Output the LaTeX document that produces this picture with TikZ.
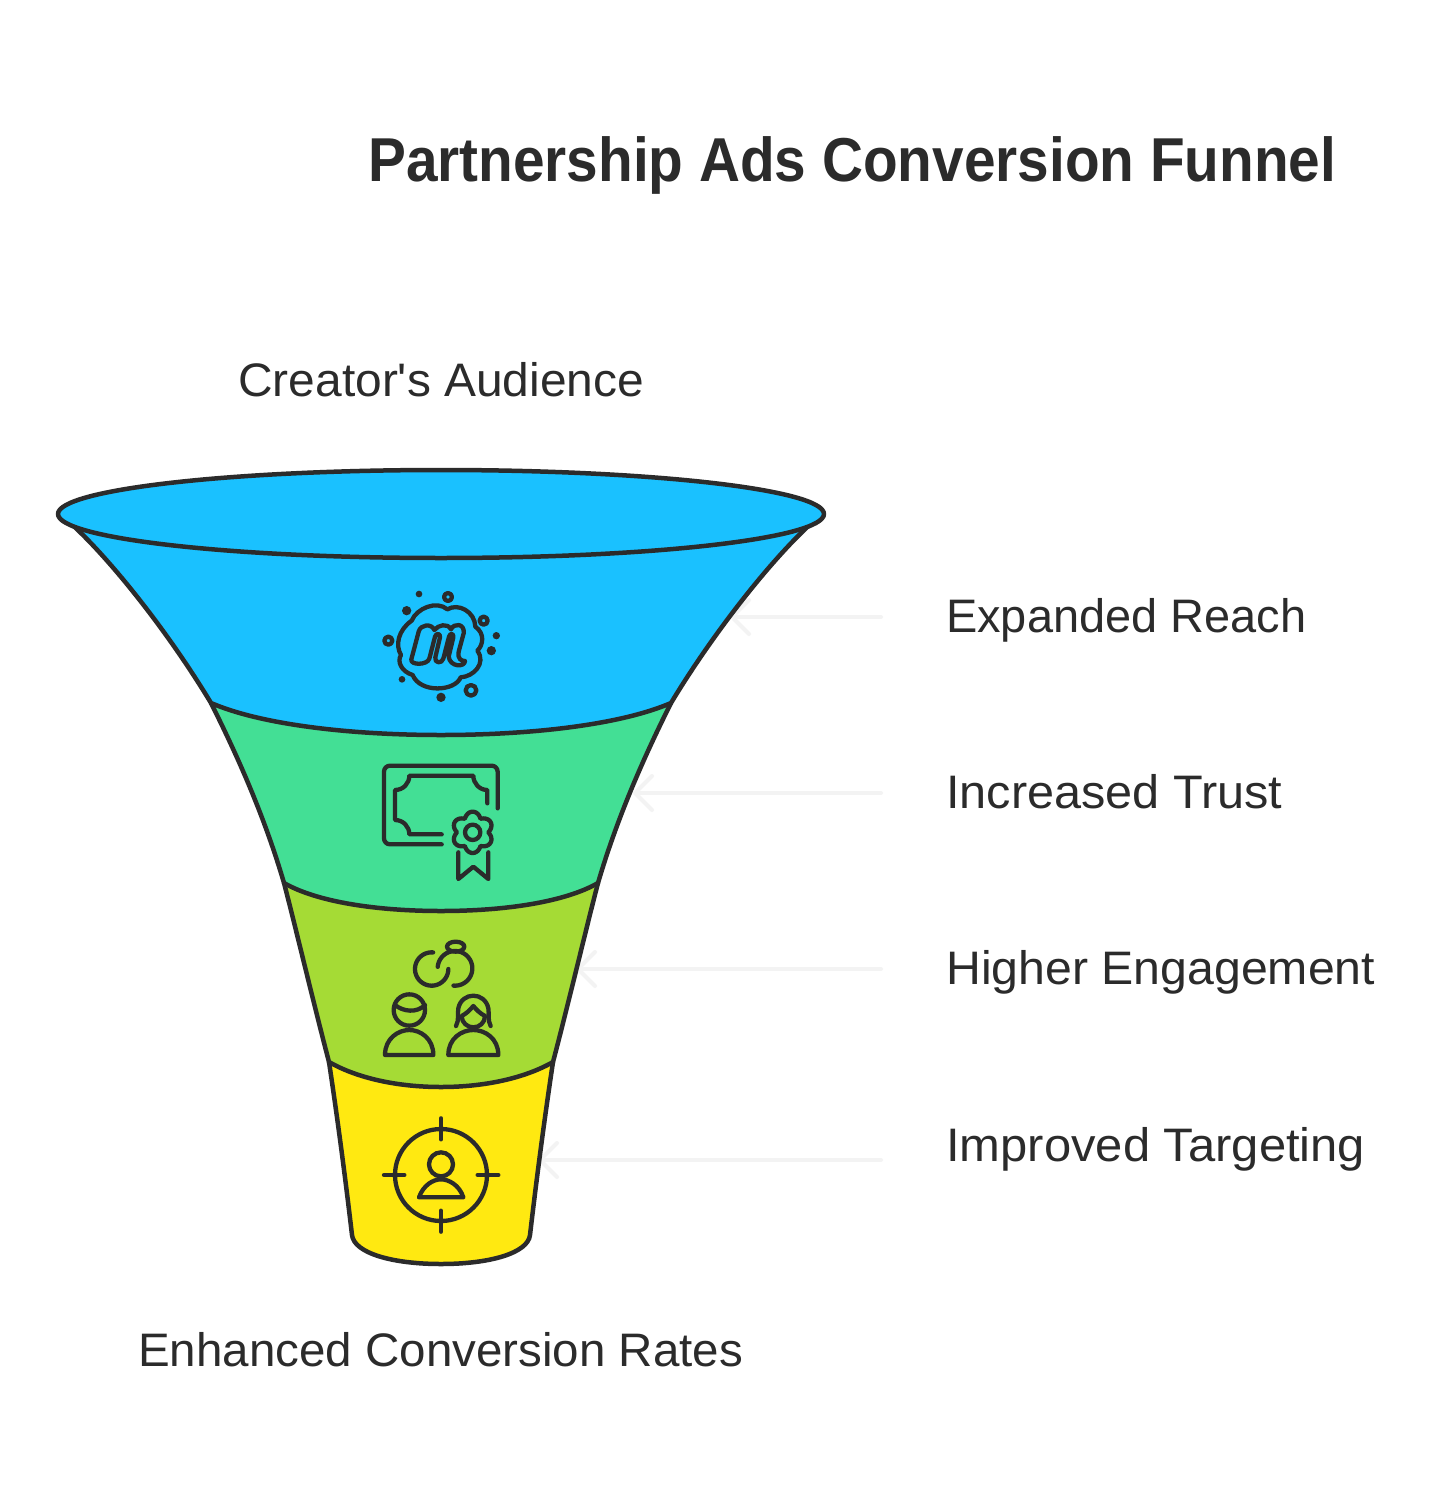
\documentclass[tikz,border=0pt]{standalone}
\usepackage{fontspec}
\usepackage{graphicx}
\setmainfont{Liberation Sans}
\newfontfamily\plainface{Liberation Sans}
\usetikzlibrary{arrows.meta}
\definecolor{ink}{HTML}{2B2B2B}
\definecolor{fblue}{HTML}{1AC1FF}
\definecolor{fgreen}{HTML}{43DF95}
\definecolor{flime}{HTML}{A5DB35}
\definecolor{fyellow}{HTML}{FFE911}
\definecolor{pale}{HTML}{F3F3F3}
\newcommand{\fitw}[2]{\resizebox{#1pt}{\height}{#2}}
\tikzset{
  band/.style={draw=ink,line width=4.5pt,line join=round},
  icon/.style={draw=ink,line width=4.3pt,line cap=round,line join=round},
  dotf/.style={fill=ink,draw=none},
  lab/.style={anchor=base west,inner sep=0pt,text=ink,font=\fontsize{47}{50}\selectfont},
  ttl/.style={anchor=base west,inner sep=0pt,text=ink,font=\fontsize{62}{66}\selectfont\bfseries},
  pointer/.style={draw=pale,line width=4pt,line cap=round,-{Straight Barb[length=17pt,width=34pt,line width=4pt,round]}}
}
\begin{document}
\begin{tikzpicture}[x=1pt,y=-1pt]
\useasboundingbox (0,0) rectangle (1440,1498);
\fill[white] (0,0) rectangle (1440,1498);

% text
\node[ttl] (title) at (368,182) {\fitw{968}{Partnership Ads Conversion Funnel}};
\node[lab] (top) at (238,396) {\fitw{406}{Creator{\plainface\symbol{39}}s Audience}};
\node[lab] (bottom) at (138,1366) {\fitw{605}{Enhanced Conversion Rates}};
\node[lab] (l1) at (946,632) {\fitw{360}{Expanded Reach}};
\node[lab] (l2) at (946,808) {\fitw{336}{Increased Trust}};
\node[lab] (l3) at (946,984) {\fitw{429}{Higher Engagement}};
\node[lab] (l4) at (946,1161) {\fitw{419}{Improved Targeting}};

% pointers
\coordinate (a1s) at (881,617); \coordinate (a1e) at (730,617);
\coordinate (a2s) at (881,793); \coordinate (a2e) at (633,793);
\coordinate (a3s) at (881,969); \coordinate (a3e) at (576,969);
\coordinate (a4s) at (881,1160); \coordinate (a4e) at (538,1160);
\draw[pointer] (a1s) -- (a1e);
\draw[pointer] (a2s) -- (a2e);
\draw[pointer] (a3s) -- (a3e);
\draw[pointer] (a4s) -- (a4e);

% funnel bands, bottom to top
\draw[band,fill=fyellow] (553,1062) .. controls (545,1115) and (537,1175) .. (530,1235)
  .. controls (528,1253) and (490,1264) .. (441,1264)
  .. controls (392,1264) and (354,1253) .. (352,1235)
  .. controls (345,1175) and (337,1115) .. (329,1062) -- cycle;
\draw[band,fill=flime] (598,883) .. controls (587,925) and (568,1005) .. (553,1062)
  .. controls (525,1078) and (485,1087) .. (441,1087)
  .. controls (397,1087) and (357,1078) .. (329,1062)
  .. controls (314,1005) and (295,925) .. (284,883) -- cycle;
\draw[band,fill=fgreen] (671,703) .. controls (645,755) and (618,815) .. (598,883)
  .. controls (565,902) and (505,911) .. (441,911)
  .. controls (377,911) and (317,902) .. (284,883)
  .. controls (264,815) and (237,755) .. (211,703) -- cycle;
\draw[band,fill=fblue] (815,520) .. controls (775,555) and (715,630) .. (671,703)
  .. controls (620,725) and (530,735) .. (441,735)
  .. controls (352,735) and (262,725) .. (211,703)
  .. controls (167,630) and (107,555) .. (67,520) -- cycle;
\draw[band,fill=fblue] (441,514) ellipse[x radius=383,y radius=44];

% icon 1: cloud m
\begin{scope}[shift={(370,580)},scale=1/3]
  \draw[icon] (125,122) .. controls (140,85) and (200,60) .. (232,88)
    .. controls (265,68) and (315,95) .. (316,140)
    .. controls (345,160) and (340,195) .. (322,212)
    .. controls (350,250) and (310,290) .. (272,292)
    .. controls (255,335) and (150,340) .. (128,285)
    .. controls (95,275) and (80,245) .. (93,225)
    .. controls (75,195) and (85,150) .. (125,122) -- cycle;
  \draw[icon] (124,238) -- (146,155) .. controls (152,132) and (185,130) .. (193,150)
    .. controls (205,135) and (232,128) .. (243,148)
    .. controls (252,128) and (285,130) .. (281,160)
    -- (266,215) .. controls (262,238) and (275,243) .. (285,243)
    .. controls (285,262) and (240,262) .. (236,230) -- (250,172)
    .. controls (252,160) and (240,158) .. (237,170) -- (220,236)
    .. controls (216,252) and (192,250) .. (196,232) -- (210,172)
    .. controls (212,160) and (198,158) .. (195,170) -- (178,236)
    .. controls (172,256) and (120,256) .. (124,238) -- cycle;
  \fill[dotf] (147,42) circle[radius=10];
  \fill[dotf] (110,92) circle[radius=14];
  \fill[dotf] (379,167) circle[radius=11];
  \fill[dotf] (364,212) circle[radius=14];
  \fill[dotf] (96,298) circle[radius=10];
  \fill[dotf] (213,352) circle[radius=14];
  \draw[icon] (234,51) circle[radius=12];
  \draw[icon] (341,122) circle[radius=12];
  \draw[icon] (55,182) circle[radius=12];
  \draw[icon] (303,331) circle[radius=16];
\end{scope}

% icon 2: certificate
\begin{scope}[shift={(370,755)},scale=1/3]
  \draw[icon,rounded corners=6pt] (215,268) -- (42,268) -- (42,32) -- (383,32) -- (383,160);
  \draw[icon] (215,238) -- (118,238) .. controls (118,215) and (100,195) .. (75,195) -- (75,105)
    .. controls (100,105) and (118,85) .. (118,62) -- (310,62)
    .. controls (310,85) and (328,105) .. (352,105) -- (352,145);
  \draw[icon,shift={(308,232)}] plot[smooth cycle,domain=0:356,samples=90] (\x:{47+15*abs(cos(3*(\x-90)))});
  \draw[icon] (308,232) circle[radius=23];
  \draw[icon] (265,292) -- (265,372) -- (310,335) -- (355,372) -- (355,292);
\end{scope}

% icon 3: rings and couple
\begin{scope}[shift={(370,930)},scale=1/3]
  \draw[icon,shift={(185,117)}] plot[smooth,domain=-85:-360,samples=40] (\x:50);
  \draw[icon,shift={(255,115)}] plot[smooth,domain=-175:95,samples=40] (\x:52);
  \draw[icon] (257,50) ellipse[x radius=26,y radius=15];
  \draw[icon] (118,240) circle[radius=47];
  \draw[icon] (75,225) .. controls (100,245) and (140,250) .. (165,225);
  \draw[icon] (45,375) .. controls (45,325) and (85,300) .. (118,300) .. controls (151,300) and (190,325) .. (190,375) -- cycle;
  \draw[icon] (258,288) .. controls (268,270) and (262,250) .. (265,235) .. controls (270,210) and (290,197) .. (310,197) .. controls (330,197) and (350,210) .. (355,235) .. controls (358,250) and (352,270) .. (362,288);
  \draw[icon] (275,258) .. controls (290,250) and (300,240) .. (310,228) .. controls (320,240) and (330,250) .. (345,258) .. controls (345,278) and (328,292) .. (310,292) .. controls (292,292) and (275,278) .. (275,258) -- cycle;
  \draw[icon] (235,375) .. controls (235,325) and (275,300) .. (310,300) .. controls (345,300) and (385,325) .. (385,375) -- cycle;
\end{scope}

% icon 4: target person
\begin{scope}[shift={(370,1110)},scale=1/3]
  \draw[icon] (213,195) circle[radius=138];
  \draw[icon] (213,25) -- (213,88);
  \draw[icon] (213,302) -- (213,365);
  \draw[icon] (42,195) -- (103,195);
  \draw[icon] (323,195) -- (385,195);
  \draw[icon] (213,163) circle[radius=36];
  \draw[icon] (147,262) .. controls (160,225) and (190,208) .. (213,208) .. controls (236,208) and (268,225) .. (280,262) -- cycle;
\end{scope}
\end{tikzpicture}
\end{document}
